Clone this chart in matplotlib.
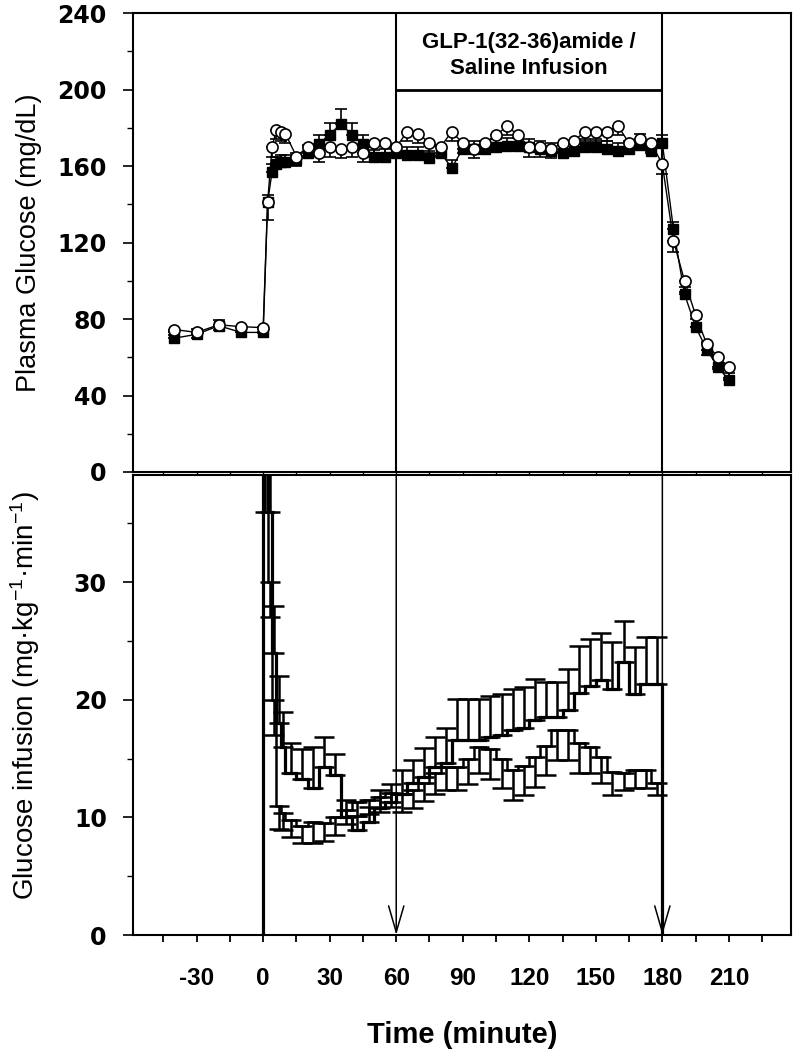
import numpy as np
import matplotlib.pyplot as plt
from matplotlib.ticker import MultipleLocator

plt.rcParams['font.family'] = ['Liberation Sans', 'DejaVu Sans']
plt.rcParams['mathtext.fontset'] = 'custom'
plt.rcParams['mathtext.rm'] = 'Liberation Sans'
plt.rcParams['mathtext.default'] = 'rm'
plt.rcParams['axes.unicode_minus'] = False

# plasma glucose (mg/dL)
t_glu = [-40, -30, -20, -10, 0, 2, 4, 6, 8, 10,
         15, 20, 25, 30, 35, 40, 45, 50, 55, 60,
         65, 70, 75, 80, 85, 90, 95, 100, 105, 110,
         115, 120, 125, 130, 135, 140, 145, 150, 155, 160,
         165, 170, 175, 180, 185, 190, 195, 200, 205, 210]
glu_sq = [70, 72, 76.5, 73, 73, 141, 157, 161, 162, 162,
          163, 167, 171.5, 176.5, 182, 176.5, 171.5, 164.5, 165, 167,
          166, 166, 164, 167, 159, 169, 169, 169, 170, 170.5,
          170.5, 170, 169, 168, 167, 168, 170, 170, 169, 168,
          169, 171, 168, 172, 127, 93, 76, 64, 55, 48]
glu_sq_sem = [3, 3, 3, 3, 3, 4, 4, 4, 4, 4,
              4, 4, 5, 6, 8, 6, 5, 4, 4, 4,
              4, 4, 4, 4, 4, 4, 4, 4, 4, 4,
              4, 4, 4, 4, 4, 4, 4, 4, 4, 4,
              4, 6, 4, 4, 4, 4, 4, 4, 4, 4]
glu_ci = [74.5, 73, 77, 76, 75.5, 141, 170, 179, 178, 177,
          165, 170, 167, 170, 169, 170, 167, 172, 172, 170,
          178, 177, 172, 170, 178, 172, 169, 172, 176, 181,
          176, 170, 170, 169, 172, 173, 178, 178, 178, 181,
          172, 174, 172, 161, 121, 100, 82, 67, 60, 55]
glu_ci_sem = [3, 3, 3, 3, 3, 9, 5, 5, 5, 5,
              5, 5, 5, 5, 5, 5, 5, 5, 5, 5,
              5, 5, 5, 5, 5, 5, 5, 5, 5, 5,
              5, 5, 5, 5, 5, 5, 5, 5, 5, 5,
              5, 5, 5, 5, 6, 6, 6, 6, 6, 6]

# glucose infusion rate (mg/kg/min), step intervals
gir_edges = [0, 2, 4, 6, 8, 10, 15, 20, 25, 30, 35, 40, 45, 50, 55,
             60, 65, 70, 75, 80, 85, 90, 95, 100, 105, 110, 115, 120, 125,
             130, 135, 140, 145, 150, 155, 160, 165, 170, 175, 180]
gir_a = [42, 36, 24, 18, 16,
         13.8, 13.3, 12.5, 14.3, 13.6, 10.0, 8.9, 9.6, 10.8, 11.3,
         12.0, 12.9, 13.4, 14.3, 14.6, 16.6, 16.6, 16.6, 16.8, 17.0,
         17.4, 17.6, 18.3, 18.5, 18.5, 19.1, 20.6, 21.2, 21.7, 20.9,
         23.2, 20.5, 21.3, 21.3]
gir_a_sem = [4, 4, 4, 4, 3,
             2.5, 2.5, 3.5, 2.5, 1.8, 1.5, 1.2, 1.3, 1.5, 1.5,
             2, 2, 2.5, 2.5, 3, 3.5, 3.5, 3.5, 3.5, 3.5,
             3.5, 3.5, 3.5, 3, 3, 3.5, 4, 4, 4, 4,
             3.5, 4, 4, 4]
gir_b = [40, 30, 20, 11, 10.4,
         9.8, 9.3, 9.6, 9.5, 10.0, 10.6, 11.3, 11.5, 11.7, 12.1,
         12.0, 12.3, 12.9, 13.8, 14.3, 14.3, 15.0, 16.0, 15.8, 15.0,
         14.0, 14.4, 15.1, 16.1, 17.4, 17.4, 16.3, 16.0, 15.1, 13.9,
         13.8, 14.0, 14.0, 12.9]
gir_b_sem = [4, 3, 3, 2, 1.5,
             1.5, 1.5, 1.8, 1.5, 1.5, 1.2, 1.2, 1.2, 1.2, 1.2,
             1.5, 1.5, 1.5, 1.8, 2, 2, 2.2, 2.2, 2.5, 2.5,
             2.5, 2.5, 2.5, 2.5, 2.5, 2.5, 2.5, 2.2, 2.2, 2,
             1.5, 1.5, 1.5, 1]

infusion_start, infusion_end = 60, 180
xlim = (-58.6, 238.2)

fig = plt.figure(figsize=(7.93, 10.5), dpi=100)
ax1 = fig.add_axes([0.168, 0.5505, 0.830, 0.437])
ax2 = fig.add_axes([0.168, 0.1095, 0.830, 0.438])

# ---- top: plasma glucose ----
ax1.errorbar(t_glu, glu_sq, yerr=[np.zeros(len(glu_sq)), glu_sq_sem], fmt='s-',
             color='k', mfc='k', mec='k', ms=6.5, lw=1, elinewidth=1.2,
             capsize=4, capthick=1.2, zorder=3)
ax1.errorbar(t_glu, glu_ci, yerr=[glu_ci_sem, np.zeros(len(glu_ci))], fmt='o-',
             color='k', mfc='white', mec='k', mew=1.2, ms=8, lw=1,
             elinewidth=1.2, capsize=4, capthick=1.2, zorder=4)

ax1.axvline(infusion_start, color='k', lw=1.5, zorder=2)
ax1.axvline(infusion_end, color='k', lw=1.5, zorder=2)
ax1.hlines(200, infusion_start, infusion_end, color='k', lw=2)
ax1.text((infusion_start + infusion_end) / 2, 218,
         'GLP-1(32-36)amide /\nSaline Infusion', ha='center', va='center',
         fontsize=16, fontweight='bold', linespacing=1.3)

ax1.set_xlim(xlim)
ax1.set_ylim(0, 240)
ax1.yaxis.set_major_locator(MultipleLocator(40))
ax1.yaxis.set_minor_locator(MultipleLocator(20))
ax1.xaxis.set_major_locator(MultipleLocator(15))
ax1.tick_params(axis='x', labelbottom=False, length=3, width=1)
ax1.set_ylabel('Plasma Glucose (mg/dL)', fontsize=19.5)
ax1.yaxis.set_label_coords(-0.138, 0.5)

# ---- bottom: glucose infusion ----
edges = np.array(gir_edges, dtype=float)
mid = (edges[:-1] + edges[1:]) / 2
ax2.stairs(gir_a, edges, baseline=0, color='k', lw=2.3, zorder=4)
ax2.stairs(gir_b, edges, baseline=0, color='k', lw=1.8, zorder=3)
ax2.errorbar(mid, gir_a, yerr=[np.zeros(len(gir_a)), gir_a_sem], fmt='none',
             ecolor='k', elinewidth=1.8, capsize=7, capthick=1.8, zorder=4)
ax2.errorbar(mid, gir_b, yerr=[gir_b_sem, np.zeros(len(gir_b))], fmt='none',
             ecolor='k', elinewidth=1.8, capsize=7, capthick=1.8, zorder=3)

ax2.set_xlim(xlim)
ax2.set_ylim(0, 39.1)
for tx in (infusion_start, infusion_end):
    ax2.annotate('', xy=(tx, 0), xytext=(tx, 39.1),
                 arrowprops=dict(arrowstyle='->,head_length=1.9,head_width=0.55',
                                 lw=1.1, color='k', shrinkA=0, shrinkB=0,
                                 mutation_scale=10))

ax2.yaxis.set_major_locator(MultipleLocator(10))
ax2.yaxis.set_minor_locator(MultipleLocator(5))
ax2.set_xticks([-30, 0, 30, 60, 90, 120, 150, 180, 210])
ax2.xaxis.set_minor_locator(MultipleLocator(15))
ax2.tick_params(axis='x', which='both', length=5, width=1.3, pad=18)
ax2.set_ylabel('Glucose infusion (mg·kg$^{-1}$·min$^{-1}$)', fontsize=20)
ax2.yaxis.set_label_coords(-0.138, 0.52)
ax2.set_xlabel('Time (minute)', fontsize=21, fontweight='bold', labelpad=22)

for lab in ax2.get_xticklabels():
    lab.set_fontsize(17.5)
    lab.set_fontweight('bold')

for ax in (ax1, ax2):
    ax.tick_params(axis='y', which='major', length=7, width=1.2, pad=12)
    ax.tick_params(axis='y', which='minor', length=4, width=1)
    for lab in ax.get_yticklabels():
        lab.set_family('DejaVu Sans')
        lab.set_fontweight('bold')
        lab.set_fontsize(17)
    for sp in ax.spines.values():
        sp.set_linewidth(1.5)

fig.savefig('out.png', dpi=100)
